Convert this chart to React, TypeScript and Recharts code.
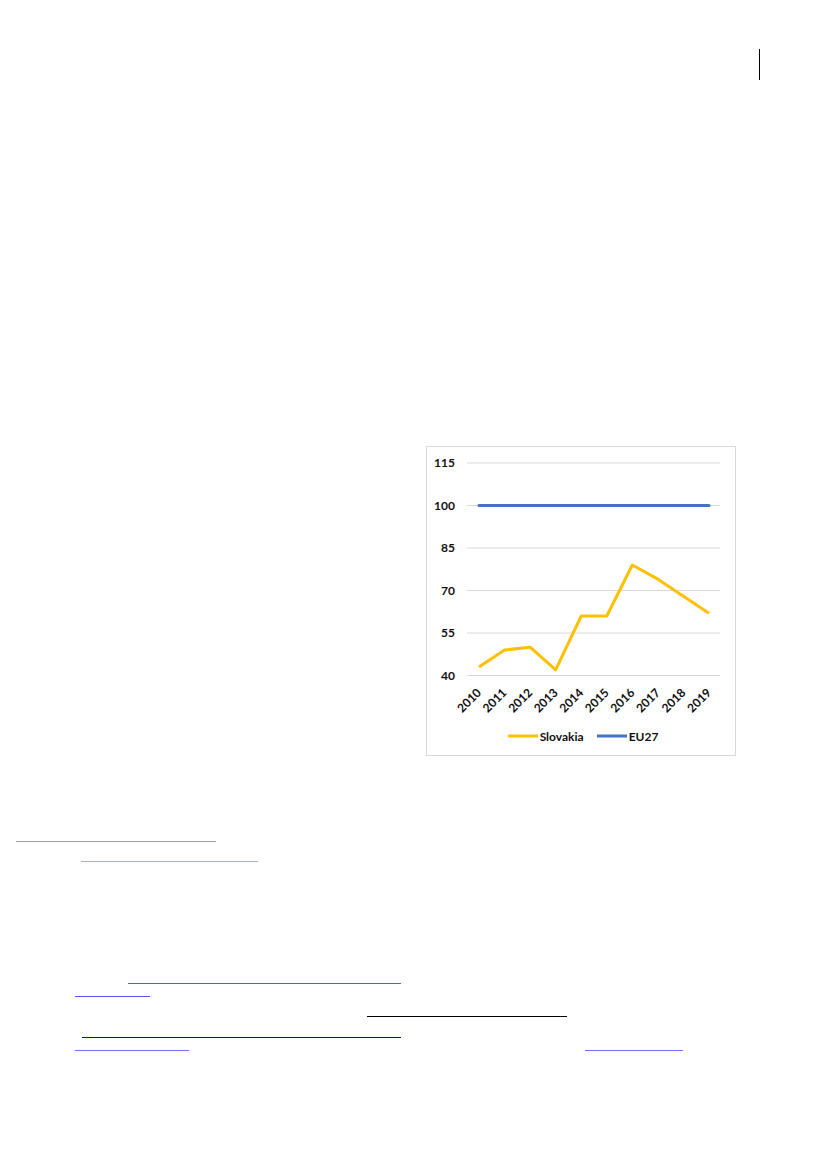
import React from "react";
import { LineChart, Line, XAxis, YAxis, CartesianGrid, Legend } from "recharts";

const years = ["2010", "2011", "2012", "2013", "2014", "2015", "2016", "2017", "2018", "2019"];
const slovakia = [43, 49, 50, 42, 61, 61, 79, 74, 68, 62];
const eu27 = [100, 100, 100, 100, 100, 100, 100, 100, 100, 100];
const yTicks = [40, 55, 70, 85, 100, 115];

const seriesNames = { sk: "Slovakia", eu: "EU27" };
const colors = { sk: "#FFC000", eu: "#4472C4" };

const data = years.map((y, i) => ({ year: y, sk: slovakia[i], eu: eu27[i] }));

const FONT = "Lato, 'Open Sans', sans-serif";
const FS = 12;

const XTick = (props: any) => {
  const { x, y, payload } = props;
  return (
    <g transform={`translate(${x},${y + 15})`}>
      <text
        x={0}
        y={0}
        dy="0.35em"
        transform="rotate(-45)"
        textAnchor="end"
        fontFamily={FONT}
        fontWeight={700}
        fontSize={FS}
        fill="#111"
      >
        {payload.value}
      </text>
    </g>
  );
};

const LegendContent = () => {
  const items = [
    { key: "sk", name: seriesNames.sk, color: colors.sk },
    { key: "eu", name: seriesNames.eu, color: colors.eu },
  ];
  return (
    <div
      style={{
        height: 18,
        display: "flex",
        justifyContent: "center",
        alignItems: "center",
        paddingLeft: 20,
        fontFamily: FONT,
        fontWeight: 700,
        fontSize: FS,
        color: "#111",
      }}
    >
      {items.map((it, i) => (
        <div key={it.key} style={{ display: "flex", alignItems: "center", marginLeft: i === 0 ? 0 : 13 }}>
          <svg width={30} height={6} style={{ display: "block" }}>
            <line x1={0} y1={3} x2={30} y2={3} stroke={it.color} strokeWidth={3} />
          </svg>
          <span style={{ marginLeft: 2 }}>{it.name}</span>
        </div>
      ))}
    </div>
  );
};

const hLine = (left: number, top: number, width: number, color: string, h = 1) => (
  <div style={{ position: "absolute", left, top, width, height: h, background: color }} />
);

export default function App() {
  return (
    <div style={{ position: "absolute", left: 0, top: 0, width: 827, height: 1169, background: "#fff" }}>
      {/* header vertical rule */}
      <div style={{ position: "absolute", left: 759, top: 49, width: 1, height: 31, background: "#000" }} />

      {/* chart frame */}
      <div
        style={{
          position: "absolute",
          left: 426,
          top: 446,
          width: 310,
          height: 310,
          border: "1px solid #d9d9d9",
          boxSizing: "border-box",
        }}
      />
      <div style={{ position: "absolute", left: 426, top: 446, width: 310, height: 310 }}>
        <LineChart width={310} height={310} data={data} margin={{ top: 17, right: 16, bottom: 11, left: 0 }}>
          <CartesianGrid vertical={false} stroke="#d9d9d9" strokeWidth={1} />
          <XAxis
            dataKey="year"
            axisLine={false}
            tickLine={false}
            tickSize={0}
            tickMargin={0}
            interval={0}
            height={51.5}
            padding={{ left: 12, right: 11 }}
            tick={<XTick />}
          />
          <YAxis
            domain={[40, 115]}
            ticks={yTicks}
            interval={0}
            axisLine={false}
            tickLine={false}
            tickSize={0}
            tickMargin={12}
            width={41}
            tick={{ fontFamily: FONT, fontWeight: 700, fontSize: FS, fill: "#111" }}
          />
          <Legend verticalAlign="bottom" content={<LegendContent />} />
          <Line
            type="linear"
            dataKey="sk"
            name={seriesNames.sk}
            stroke={colors.sk}
            strokeWidth={3}
            dot={false}
            activeDot={false}
            strokeLinejoin="round"
            isAnimationActive={false}
          />
          <Line
            type="linear"
            dataKey="eu"
            name={seriesNames.eu}
            stroke={colors.eu}
            strokeWidth={3}
            dot={false}
            activeDot={false}
            strokeLinecap="round"
            isAnimationActive={false}
          />
        </LineChart>
      </div>

      {/* footnote separator and link underlines */}
      {hLine(16, 841, 200, "#a0a0a0")}
      {hLine(81, 861, 177, "#a8a8ff")}
      {hLine(128, 983, 273, "#5555ff")}
      {hLine(75, 996, 75, "#5555ff")}
      {hLine(367, 1016, 200, "#000")}
      {hLine(82, 1037, 319, "#0000dd")}
      {hLine(75, 1050, 114, "#7070ff")}
      {hLine(585, 1050, 98, "#7070ff")}
    </div>
  );
}
